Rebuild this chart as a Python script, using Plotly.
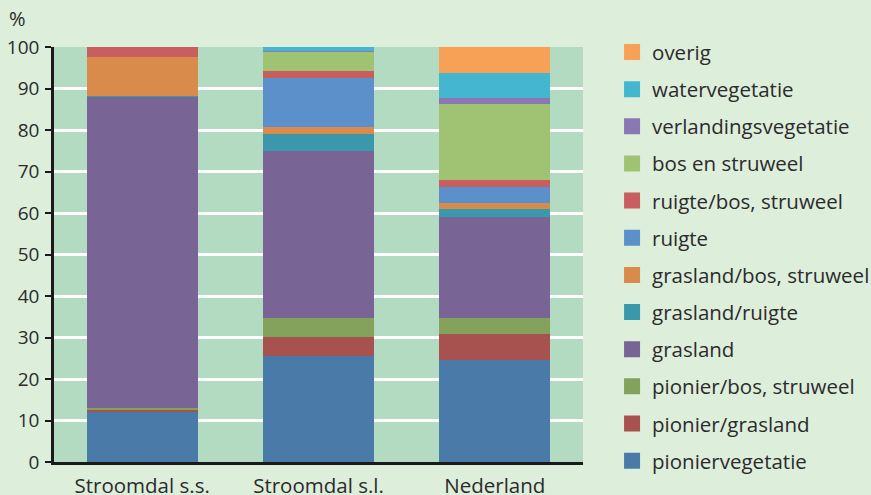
import plotly.graph_objects as go

categories = ["Stroomdal s.s.", "Stroomdal s.l.", "Nederland"]

series_names = [
    "pioniervegetatie",
    "pionier/grasland",
    "pionier/bos, struweel",
    "grasland",
    "grasland/ruigte",
    "grasland/bos, struweel",
    "ruigte",
    "ruigte/bos, struweel",
    "bos en struweel",
    "verlandingsvegetatie",
    "watervegetatie",
    "overig",
]

pioniervegetatie = [12.1, 25.5, 24.6]
pionier_grasland = [0.4, 4.7, 6.2]
pionier_bos = [0.5, 4.4, 3.8]
grasland = [75.0, 40.4, 24.5]
grasland_ruigte = [0.3, 4.0, 1.9]
grasland_bos = [9.3, 1.8, 1.3]
ruigte = [0.0, 11.7, 3.9]
ruigte_bos = [2.4, 1.6, 1.8]
bos_struweel = [0.0, 4.8, 18.3]
verlandingsvegetatie = [0.0, 0.2, 1.3]
watervegetatie = [0.0, 0.9, 6.1]
overig = [0.0, 0.0, 6.3]

series_values = [
    pioniervegetatie, pionier_grasland, pionier_bos, grasland,
    grasland_ruigte, grasland_bos, ruigte, ruigte_bos,
    bos_struweel, verlandingsvegetatie, watervegetatie, overig,
]

colors = [
    "#4a7ba8", "#a8524f", "#84a25b", "#786595",
    "#3a98aa", "#d98b4b", "#5b90cb", "#c95e5e",
    "#a0c373", "#8b77b4", "#45b6d0", "#f7a157",
]

y_ticks = list(range(0, 101, 10))

FONT = "Open Sans"
TEXT = "#2b2b2b"
BG = "#ddeedb"

fig = go.Figure()
for name, vals, col in zip(series_names, series_values, colors):
    fig.add_trace(go.Bar(
        x=categories, y=vals, name=name, marker=dict(color=col, line=dict(width=0)),
        showlegend=False, legendgroup=name,
    ))
# legend entries (top to bottom: overig ... pioniervegetatie)
for name, col in reversed(list(zip(series_names, colors))):
    fig.add_trace(go.Scatter(
        x=[None], y=[None], mode="markers", name=name, legendgroup=name,
        marker=dict(symbol="square", size=16, color=col), showlegend=True,
    ))

fig.update_layout(
    width=871, height=495,
    barmode="stack", bargap=0.37,
    paper_bgcolor=BG, plot_bgcolor="#b3dbc1",
    margin=dict(l=54, r=288, t=47, b=33),
    font=dict(family=FONT, size=19, color=TEXT),
    legend=dict(
        traceorder="grouped", xref="container", yref="container",
        x=0.7027, y=0.935, xanchor="left", yanchor="top",
        font=dict(family=FONT, size=20.5, color=TEXT),
        tracegroupgap=7.5, bgcolor="rgba(0,0,0,0)", maxheight=1.0,
    ),
    annotations=[dict(
        text="%", xref="paper", yref="paper", x=-0.089, y=1.068,
        xanchor="left", yanchor="middle", showarrow=False,
        font=dict(family=FONT, size=20, color=TEXT),
    )],
)
fig.update_xaxes(
    showline=True, linecolor="#1a1a1a", linewidth=3, ticks="",
    showgrid=False, ticklabelstandoff=3, automargin=False,
    tickfont=dict(family=FONT, size=20.5, color=TEXT),
)
fig.update_yaxes(
    range=[0, 100], tickvals=y_ticks, showline=True, linecolor="#1a1a1a",
    linewidth=2.5, ticks="outside", ticklen=6, tickcolor="#1a1a1a", tickwidth=2,
    showgrid=True, gridcolor="#ffffff", gridwidth=2.5, zeroline=False,
    tickfont=dict(family=FONT, size=19, color=TEXT), ticklabelstandoff=2,
    automargin=False,
)

post = ("document.body.style.margin='0';document.body.style.padding='0';"
        "document.body.style.background='" + BG + "';"
        "document.documentElement.style.background='" + BG + "';")

fig.write_html("out.html", post_script=post, config={"displayModeBar": False})
